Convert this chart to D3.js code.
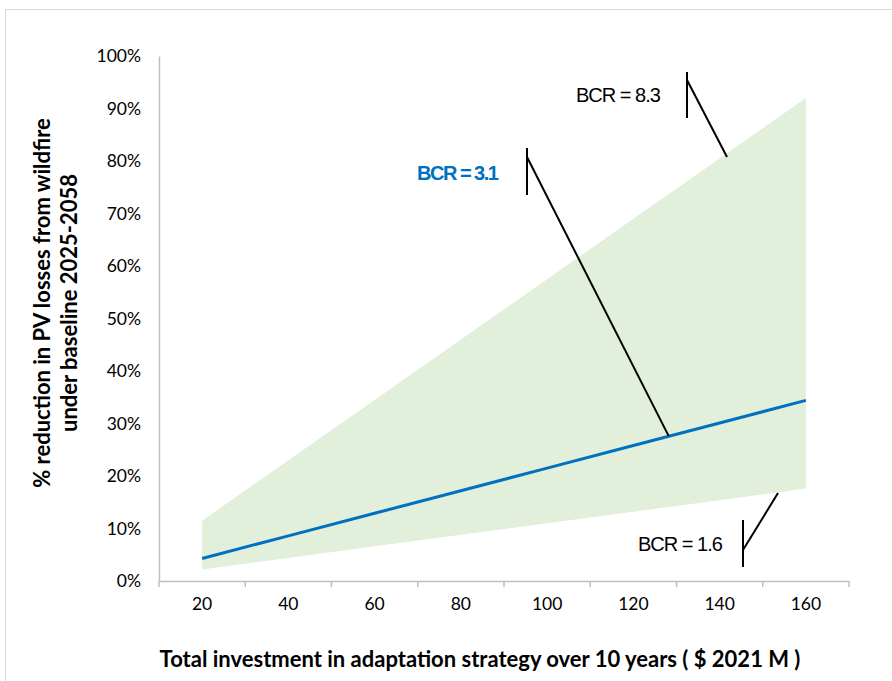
<!DOCTYPE html>
<html>
<head>
<meta charset="utf-8">
<script src="https://cdn.jsdelivr.net/npm/d3@7"></script>
<style>
  body { margin: 0; background: #fff; }
  svg text { font-family: Lato, "Open Sans", sans-serif; }
  svg text.bcr { font-family: "Liberation Sans", Arial, sans-serif; }
</style>
</head>
<body>
<svg id="chart" width="892" height="681"></svg>
<script>
"use strict";

// Categories on the x axis ($ 2021 M)
var investment = [20, 40, 60, 80, 100, 120, 140, 160];

// Central estimate (BCR = 3.1), % reduction
var central = [4.3, 8.6, 12.9, 17.2, 21.5, 25.8, 30.1, 34.4];

// Band: upper (BCR = 8.3) and lower (BCR = 1.6)
var upper = [11.5, 23, 34.5, 46, 57.5, 69, 80.5, 92];
var lower = [2.2, 4.4, 6.6, 8.8, 11, 13.2, 15.4, 17.6];

var yTicks = [0, 10, 20, 30, 40, 50, 60, 70, 80, 90, 100];

var svg = d3.select("#chart");

// Outer frame
svg.append("rect")
  .attr("x", 5.5).attr("y", 9.5)
  .attr("width", 900).attr("height", 700)
  .attr("fill", "none")
  .attr("stroke", "#d9d9d9");

var margin = {top: 56, left: 159},
  width = 690,
  height = 525;

var g = svg.append("g").attr("transform", "translate(" + margin.left + "," + margin.top + ")");

var x = d3.scaleBand().domain(investment).range([0, width]);
var y = d3.scaleLinear().domain([0, 100]).range([height, 0]);

var cx = function(d, i) { return x(investment[i]) + x.bandwidth() / 2; };

// Shaded band
var band = d3.area()
  .x(cx)
  .y0(function(d, i) { return y(lower[i]); })
  .y1(function(d, i) { return y(upper[i]); });

g.append("path")
  .datum(investment)
  .attr("fill", "#e2efda")
  .attr("d", band);

// Axes
var xAxis = g.append("g")
  .attr("transform", "translate(0," + height + ")")
  .call(d3.axisBottom(x).tickSize(0).tickPadding(17));
xAxis.select(".domain").attr("stroke", "#bfbfbf").attr("stroke-width", 1.5);
xAxis.selectAll("text").attr("font-size", 17.5).attr("fill", "#000");

// category boundary ticks
g.selectAll(".xtick")
  .data(d3.range(investment.length + 1))
  .enter().append("line")
  .attr("x1", function(i) { return i * x.step(); })
  .attr("x2", function(i) { return i * x.step(); })
  .attr("y1", height).attr("y2", height + 6)
  .attr("stroke", "#bfbfbf")
  .attr("stroke-width", 1.5);

var yAxis = g.append("g")
  .call(d3.axisLeft(y).tickValues(yTicks).tickSize(0).tickPadding(18)
    .tickFormat(function(d) { return d + "%"; }));
yAxis.select(".domain").attr("stroke", "#bfbfbf").attr("stroke-width", 1.5);
yAxis.selectAll("text").attr("font-size", 17.5).attr("fill", "#000");

// Central line
var line = d3.line()
  .x(cx)
  .y(function(d) { return y(d); });

g.append("path")
  .datum(central)
  .attr("fill", "none")
  .attr("stroke", "#0070c0")
  .attr("stroke-width", 3)
  .attr("d", line);

// Callouts
function callout(label, color, bold, tx, ty, vx, vy0, vy1, ax, ay, px, py) {
  svg.append("text")
    .attr("class", "bcr")
    .attr("x", tx).attr("y", ty)
    .attr("font-size", 20)
    .attr("letter-spacing", bold ? -1.5 : -1)
    .attr("font-weight", bold ? "bold" : "normal")
    .attr("fill", color)
    .text(label);
  svg.append("line")
    .attr("x1", vx).attr("x2", vx).attr("y1", vy0).attr("y2", vy1)
    .attr("stroke", "#000").attr("stroke-width", 2);
  svg.append("line")
    .attr("x1", ax).attr("y1", ay).attr("x2", px).attr("y2", py)
    .attr("stroke", "#000").attr("stroke-width", 2);
}

callout("BCR = 8.3", "#000", false, 576, 102, 687, 72, 118, 687, 80, 727, 157);
callout("BCR = 3.1", "#0070c0", true, 417, 180, 527, 148, 195, 527, 157,
  margin.left + cx(0, 5) + 0.41 * x.step(), margin.top + y(27.6));
callout("BCR = 1.6", "#000", false, 638, 551, 743, 520, 567, 743, 550, 778, 493);

// Axis titles
svg.append("text")
  .attr("x", 480)
  .attr("y", 667)
  .attr("text-anchor", "middle")
  .attr("font-size", 22)
  .attr("font-weight", "bold")
  .text("Total investment in adaptation strategy over 10 years ( $ 2021 M )");

var yt = svg.append("text")
  .attr("transform", "translate(50,303) rotate(-90)")
  .attr("text-anchor", "middle")
  .attr("font-size", 22)
  .attr("font-weight", "bold");
yt.append("tspan").attr("x", 0).attr("dy", 0).text("% reduction in PV losses from wildfire");
yt.append("tspan").attr("x", 0).attr("dy", 27).text("under baseline 2025-2058");
</script>
</body>
</html>
